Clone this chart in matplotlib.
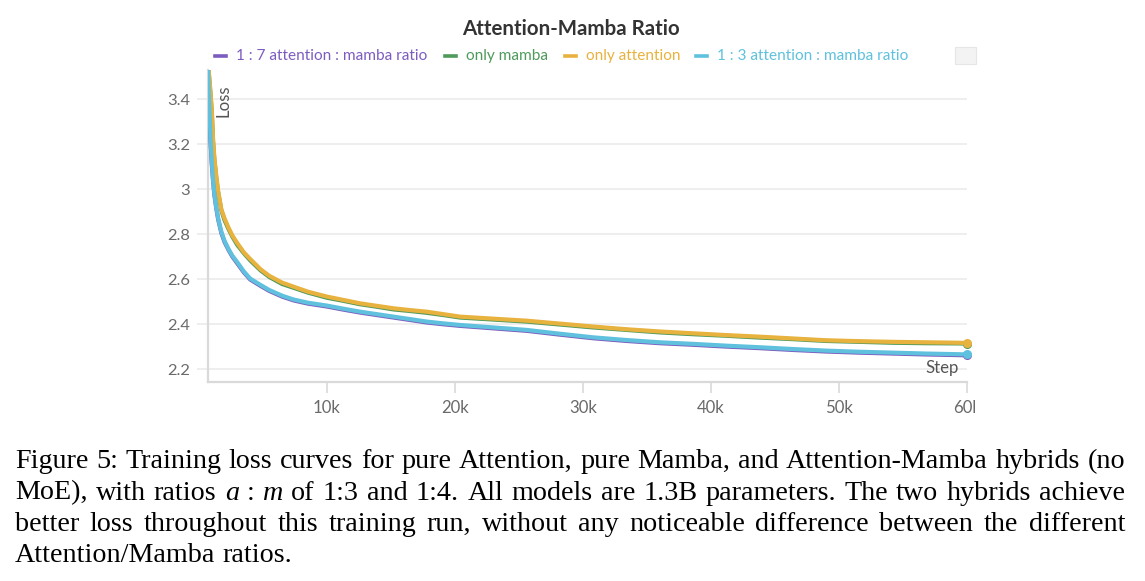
import matplotlib
matplotlib.use("Agg")
import matplotlib.pyplot as plt
from matplotlib.transforms import Bbox, blended_transform_factory
from matplotlib.patches import Rectangle
from matplotlib.lines import Line2D

# ---------------- data ----------------
steps = [700, 800, 900, 1000, 1100, 1200, 1350, 1500, 1750, 2000, 2300, 2600,
         3000, 3500, 4000, 4800, 5500, 6500, 7400, 8500, 10000, 11300, 12600,
         13900, 15200, 16500, 17800, 19100, 20400, 23000, 25600, 28200, 30800,
         33400, 36000, 38600, 41200, 43800, 46400, 49000, 51600, 54200, 56800,
         59400, 60000]

loss_attention = [3.56, 3.50, 3.43, 3.35, 3.22, 3.14, 3.06, 2.99, 2.91, 2.87, 2.83, 2.795,
                  2.76, 2.72, 2.69, 2.645, 2.615, 2.585, 2.567, 2.545, 2.523, 2.508, 2.493,
                  2.482, 2.471, 2.463, 2.456, 2.445, 2.434, 2.425, 2.416, 2.403, 2.390,
                  2.378, 2.368, 2.360, 2.352, 2.345, 2.337, 2.329, 2.325, 2.322, 2.320,
                  2.318, 2.317]

loss_mamba = [3.56, 3.49, 3.42, 3.34, 3.21, 3.13, 3.05, 2.985, 2.905, 2.862, 2.824, 2.79,
              2.752, 2.716, 2.684, 2.64, 2.61, 2.579, 2.562, 2.541, 2.518, 2.504, 2.489,
              2.478, 2.466, 2.459, 2.451, 2.441, 2.430, 2.421, 2.412, 2.399, 2.386,
              2.375, 2.364, 2.356, 2.349, 2.341, 2.334, 2.326, 2.322, 2.318, 2.316,
              2.315, 2.314]

loss_1to3 = [3.53, 3.38, 3.22, 3.12, 3.04, 2.98, 2.92, 2.87, 2.81, 2.77, 2.735, 2.705,
             2.675, 2.635, 2.603, 2.575, 2.552, 2.527, 2.510, 2.496, 2.483, 2.469, 2.456,
             2.445, 2.434, 2.423, 2.412, 2.404, 2.397, 2.386, 2.375, 2.358, 2.342,
             2.330, 2.320, 2.313, 2.305, 2.298, 2.290, 2.283, 2.278, 2.274, 2.270,
             2.267, 2.266]

loss_1to7 = [3.53, 3.37, 3.21, 3.11, 3.035, 2.975, 2.915, 2.865, 2.805, 2.765, 2.731, 2.701,
             2.670, 2.631, 2.599, 2.571, 2.548, 2.523, 2.506, 2.492, 2.479, 2.465, 2.452,
             2.441, 2.430, 2.419, 2.408, 2.400, 2.393, 2.382, 2.371, 2.354, 2.338,
             2.326, 2.316, 2.309, 2.301, 2.294, 2.286, 2.279, 2.274, 2.270, 2.266,
             2.263, 2.262]

series_names = ["1 : 7 attention : mamba ratio", "only mamba", "only attention",
                "1 : 3 attention : mamba ratio"]
series_values = [loss_1to7, loss_mamba, loss_attention, loss_1to3]
colors = ["#7d5cbf", "#4e9a5b", "#e8b23e", "#5fc1dd"]

y_ticks = [2.2, 2.4, 2.6, 2.8, 3.0, 3.2, 3.4]
y_tick_labels = ["2.2", "2.4", "2.6", "2.8", "3", "3.2", "3.4"]
x_ticks = [10000, 20000, 30000, 40000, 50000, 60000]
x_tick_labels = ["10k", "20k", "30k", "40k", "50k", "60k"]

title = "Attention-Mamba Ratio"
y_label = "Loss"
x_label = "Step"

caption_lines = [
    [("Figure", "n"), ("5:", "n"), ("Training", "n"), ("loss", "n"), ("curves", "n"), ("for", "n"),
     ("pure", "n"), ("Attention,", "n"), ("pure", "n"), ("Mamba,", "n"), ("and", "n"),
     ("Attention-Mamba", "n"), ("hybrids", "n"), ("(no", "n")],
    [("MoE),", "n"), ("with", "n"), ("ratios", "n"), ("a", "i"), (":", "n"), ("m", "i"), ("of", "n"),
     ("1:3", "n"), ("and", "n"), ("1:4.", "n"), ("All", "n"), ("models", "n"), ("are", "n"),
     ("1.3B", "n"), ("parameters.", "n"), ("The", "n"), ("two", "n"), ("hybrids", "n"),
     ("achieve", "n")],
    [("better", "n"), ("loss", "n"), ("throughout", "n"), ("this", "n"), ("training", "n"),
     ("run,", "n"), ("without", "n"), ("any", "n"), ("noticeable", "n"), ("difference", "n"),
     ("between", "n"), ("the", "n"), ("different", "n")],
    [("Attention/Mamba", "n"), ("ratios.", "n")],
]

# ---------------- figure ----------------
W, H = 1145, 581
fig = plt.figure(figsize=(W / 100, H / 100), dpi=100)
fig.patch.set_facecolor("white")
renderer = fig.canvas.get_renderer()


def fx(x):
    return x / W


def fy(y):
    return 1 - y / H


def fit_size(text, target_px, **kw):
    t = fig.text(0, 0, text, fontsize=10, **kw)
    w = t.get_window_extent(renderer).width
    t.remove()
    return 10 * target_px / w


UI = "Lato"
ax = fig.add_axes([fx(208), fy(382), fx(967) - fx(208), fy(70) - fy(382)])
ax.set_xlim(703, 60000)
ax.set_ylim(2.1436, 3.530)

for vals, col in zip(series_values, colors):
    ax.plot(steps, vals, color=col, lw=3.0, solid_capstyle="round", solid_joinstyle="round",
            zorder=3)
    ax.plot(steps[-1], vals[-1], "o", color=col, ms=6.5, mec="none", clip_on=False, zorder=4)

grid_c = "#ebebeb"
axis_c = "#d9d9d9"
for s in ["top", "right"]:
    ax.spines[s].set_visible(False)
for s in ["left", "bottom"]:
    ax.spines[s].set_color(axis_c)
    ax.spines[s].set_linewidth(1.6)

ax.set_yticks(y_ticks)
ax.set_yticklabels(y_tick_labels)
ax.yaxis.grid(True, color=grid_c, lw=1.2, zorder=0)
ax.tick_params(axis="y", length=8, width=1.2, color=grid_c, pad=5,
               labelsize=fit_size("3.2", 23, family=UI), labelcolor="#6a6a6a")
for lab in ax.get_yticklabels():
    lab.set_family(UI)

ax.set_xticks(x_ticks)
ax.set_xticklabels([])
ax.tick_params(axis="x", length=8, width=1.2, color=axis_c)
xfs = fit_size("10k", 28, family=UI)
clipbox = Bbox.from_extents(0, 0, 975, H)
xtrans = blended_transform_factory(ax.transData, fig.transFigure)
for xt, lab in zip(x_ticks, x_tick_labels):
    t = ax.text(xt, fy(408), lab, transform=xtrans, ha="center", va="center",
                fontsize=xfs, family=UI, color="#6a6a6a")
    t.set_clip_on(True)
    t.set_clip_box(clipbox)

fig.text(fx(224), fy(101), y_label, rotation=90, ha="center", va="center",
         fontsize=xfs, family=UI, color="#555555")
fig.text(fx(959), fy(368), x_label, ha="right", va="center",
         fontsize=xfs, family=UI, color="#555555")

# title
fig.text(fx(571), fy(29), title, ha="center", va="center", family=UI, weight="bold",
         color="#333333", fontsize=fit_size(title, 218, family=UI, weight="bold"))

# legend row
lfs = fit_size(series_names[0], 192, family=UI)
starts = [236, 466, 586, 717]
for name, col, x0 in zip(series_names, colors, starts):
    fig.add_artist(Line2D([fx(x0 - 21), fx(x0 - 10)], [fy(56), fy(56)], color=col, lw=2.6,
                          transform=fig.transFigure))
    fig.text(fx(x0), fy(56), name, ha="left", va="center", fontsize=lfs, family=UI, color=col)
fig.add_artist(Rectangle((fx(955), fy(64)), fx(976) - fx(955), fy(47) - fy(64),
                         transform=fig.transFigure, facecolor="#f3f3f3", edgecolor="#e6e6e6",
                         lw=0.8))

# caption, justified
SERIF = "Liberation Serif"
line1_text = " ".join(w for w, s in caption_lines[0])
cfs = fit_size(line1_text, 1098, family=SERIF)
left, right = 15, 1125
baselines = [468, 499.5, 531, 562.5]


def word_width(w, style):
    t = fig.text(0, 0, w, fontsize=cfs, family=SERIF,
                 style="italic" if style == "i" else "normal")
    wd = t.get_window_extent(renderer).width
    t.remove()
    return wd


space = word_width("a b", "n") - word_width("ab", "n")
for li, (line, yb) in enumerate(zip(caption_lines, baselines)):
    widths = [word_width(w, s) for w, s in line]
    if li < len(caption_lines) - 1:
        gap = (right - left - sum(widths)) / (len(line) - 1)
    else:
        gap = space
    x = left
    for (w, s), wd in zip(line, widths):
        fig.text(fx(x), fy(yb), w, ha="left", va="baseline", fontsize=cfs, family=SERIF,
                 style="italic" if s == "i" else "normal", color="black")
        x += wd + gap

fig.savefig("out.png", dpi=100, facecolor="white")
